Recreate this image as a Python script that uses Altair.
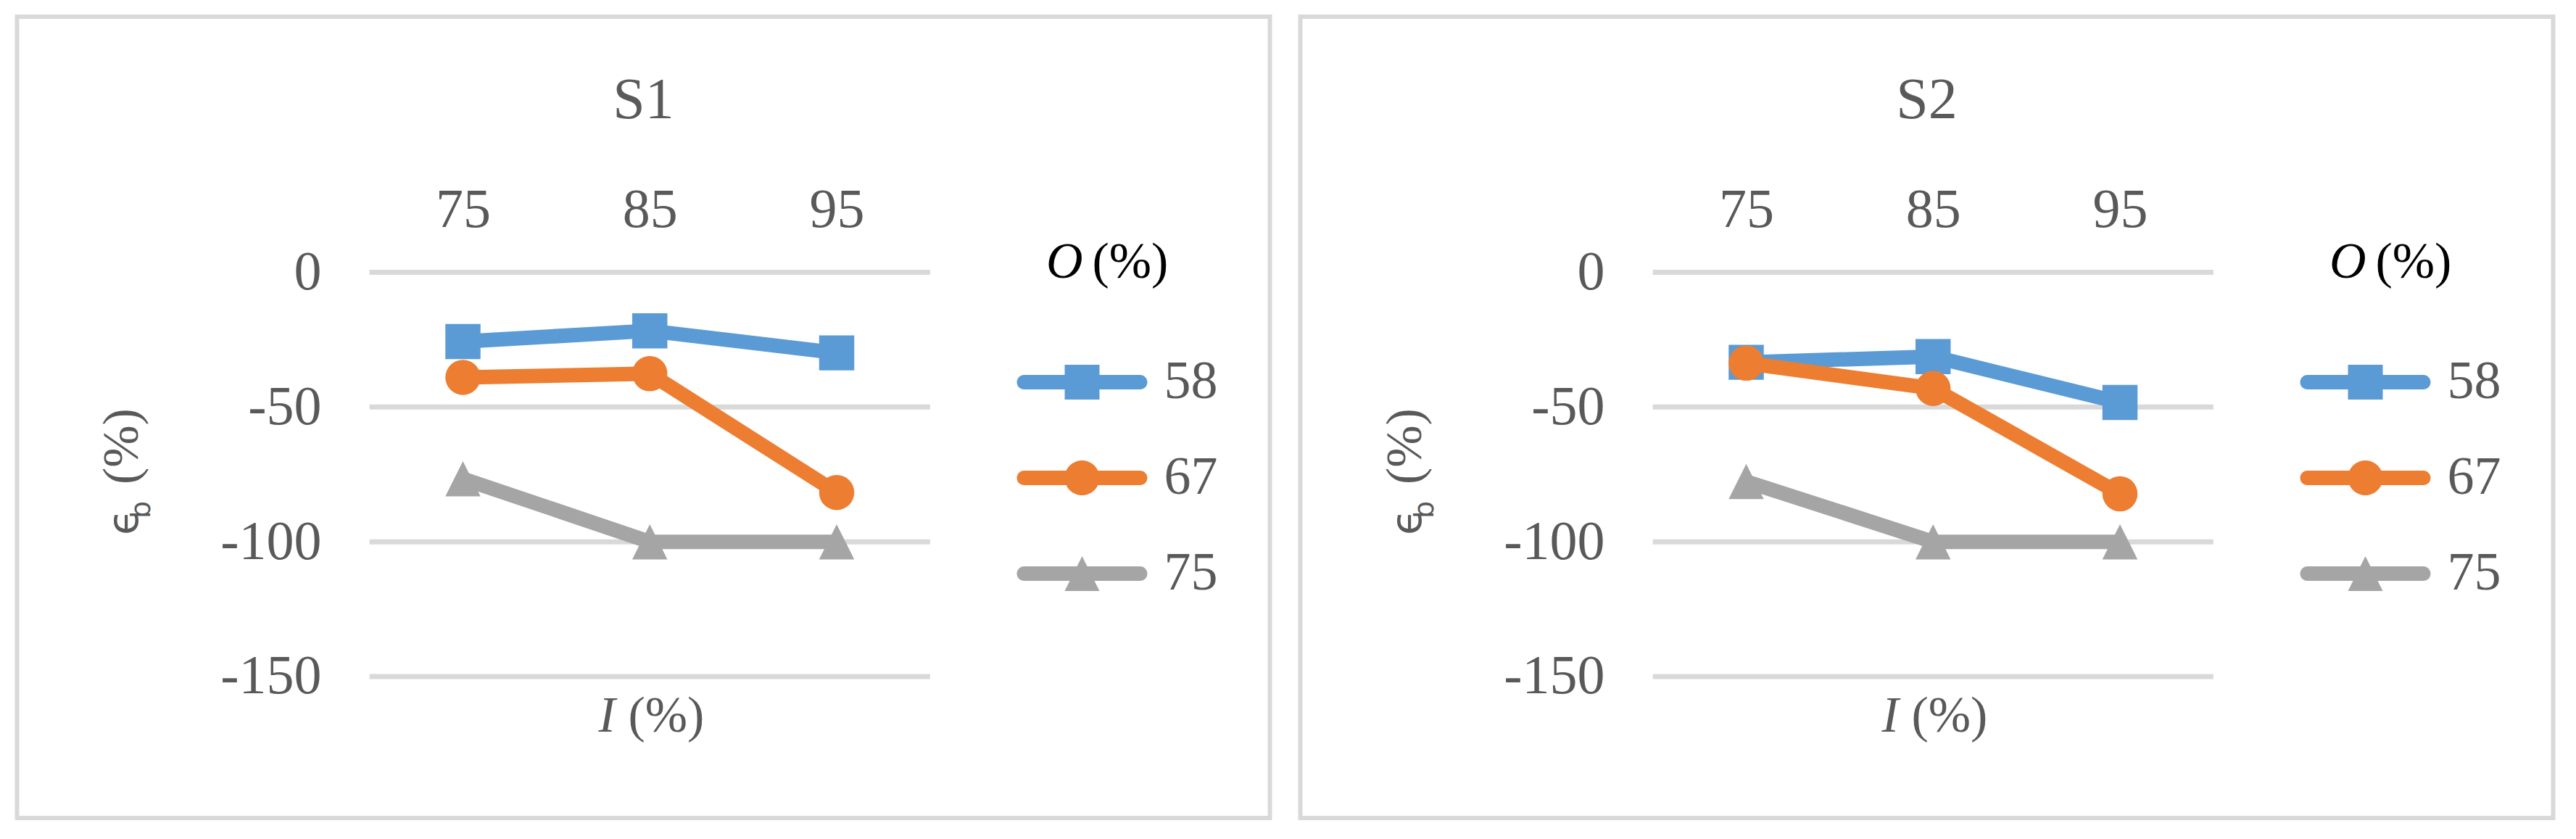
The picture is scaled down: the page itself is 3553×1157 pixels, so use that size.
import altair as alt
import pandas as pd

# ---- data ----
I_VALUES = [75, 85, 95]            # I (%)
O_LIST = ["58", "67", "75"]        # O (%)
Y_TICKS = [0, -50, -100, -150]

S1_58 = [-25.7, -21.7, -29.9]
S1_67 = [-39.0, -37.6, -81.7]
S1_75 = [-76.6, -100.0, -100.0]

S2_58 = [-33.4, -31.3, -48.3]
S2_67 = [-33.7, -43.1, -82.2]
S2_75 = [-77.6, -100.0, -100.0]

COLORS = ["#5B9BD5", "#ED7D31", "#A5A5A5"]
TEXT = "#595959"
GRID = "#D9D9D9"
SERIF = "Liberation Serif"

W, H = 1728, 1105
X_DOMAIN = [51.14, 118.18]
Y_DOMAIN = [-202.47, 94.84]

MARKERS = ["square", "circle", "M0,-1L1,1H-1Z"]
LINE_PATH = "M-3.33,-0.42H3.33A0.42,0.42,0,0,1,3.33,0.42H-3.33A0.42,0.42,0,0,1,-3.33,-0.42Z"
LEGEND_PATHS = [
    LINE_PATH + " M-1,-1H1V1H-1Z",
    LINE_PATH + " M-1,0A1,1,0,1,1,1,0A1,1,0,1,1,-1,0Z",
    LINE_PATH + " M0,-1L1,1H-1Z",
]


def make_df(series):
    rows = []
    for o, vals in zip(O_LIST, series):
        for i, v in zip(I_VALUES, vals):
            rows.append({"I": i, "eps": v, "O": o})
    return pd.DataFrame(rows)


x_enc = alt.X("I:Q", scale=alt.Scale(domain=X_DOMAIN, nice=False, zero=False),
              axis=alt.Axis(orient="top", values=I_VALUES, offset=-289, domain=False,
                            ticks=False, tickSize=0, labelPadding=0, grid=False,
                            labelBaseline="alphabetic", labelFont=SERIF, labelFontSize=76,
                            labelColor=TEXT, labelExpr="'' + datum.value", title=None))
y_enc = alt.Y("eps:Q", scale=alt.Scale(domain=Y_DOMAIN, nice=False, zero=False),
              axis=alt.Axis(orient="left", values=Y_TICKS, offset=-419.5, domain=False,
                            ticks=False, tickSize=0, labelPadding=0, grid=False,
                            labelFont=SERIF, labelFontSize=76, labelColor=TEXT,
                            labelExpr="'' + datum.value", title=None))
color_scale = alt.Scale(domain=O_LIST, range=COLORS)


def text_layer(txt, x, y, size, color=TEXT, font=SERIF, style="normal", angle=0,
               align="left"):
    return alt.Chart(pd.DataFrame({"t": [txt]})).mark_text(
        font=font, fontSize=size, color=color, fontStyle=style, angle=angle,
        align=align, baseline="alphabetic"
    ).encode(text="t:N", x=alt.value(x), y=alt.value(y))


def panel(title, series):
    df = make_df(series)
    step = I_VALUES[1] - I_VALUES[0]
    grid = alt.Chart(pd.DataFrame({"y": Y_TICKS})).mark_rule(
        color=GRID, strokeWidth=7
    ).encode(y=alt.Y("y:Q"), x=alt.datum(I_VALUES[0] - step / 2),
             x2=alt.datum(I_VALUES[-1] + step / 2))
    layers = [grid]
    for o, shp, col in zip(O_LIST, MARKERS, COLORS):
        base = alt.Chart(df).transform_filter(alt.datum.O == o)
        layers.append(base.mark_line(color=col, strokeWidth=20, strokeCap="round",
                                     strokeJoin="round").encode(x=x_enc, y=y_enc))
        layers.append(base.mark_point(shape=shp, filled=True, size=2350, opacity=1,
                                      color=col, strokeWidth=0).encode(x=x_enc, y=y_enc))
    leg = alt.Legend(orient="none", legendX=1432, legendY=467, title=None, padding=0,
                     labelFont=SERIF, labelFontSize=74, labelColor=TEXT, labelOffset=76,
                     symbolSize=2304, symbolOpacity=1, symbolStrokeWidth=0, rowPadding=58)
    legend_layer = alt.Chart(df).transform_filter("false").mark_point(
        filled=True, size=2304, opacity=1).encode(
        x=x_enc, y=y_enc,
        color=alt.Color("O:N", scale=color_scale, legend=leg),
        shape=alt.Shape("O:N", scale=alt.Scale(domain=O_LIST, range=LEGEND_PATHS), legend=leg))
    layers.append(legend_layer)
    layers += [
        text_layer(title, 864, 140, 80, align="center"),
        text_layer("I", 802, 986, 70, style="italic"),
        text_layer("(%)", 843, 986, 70),
        text_layer("\u03f5", 166.5, 715, 58, font="DejaVu Sans", angle=270),
        text_layer("b", 183.5, 692, 38, font="DejaVu Sans", angle=270),
        text_layer("(%)", 166.5, 645, 70, angle=270),
        text_layer("O", 1419.5, 360, 70, color="#000000", style="italic"),
        text_layer("(%)", 1483, 360, 70, color="#000000"),
    ]
    return alt.layer(*layers).properties(width=W, height=H)


chart = alt.hconcat(
    panel("S1", [S1_58, S1_67, S1_75]),
    panel("S2", [S2_58, S2_67, S2_75]),
    spacing=36,
).resolve_legend(color="independent", shape="independent").configure_view(
    stroke=GRID, strokeWidth=6
).properties(
    padding={"left": 12.5, "top": 12, "right": 5, "bottom": 5},
    background="white",
)

chart.save("out.html", embed_options={"renderer": "svg", "actions": False})
